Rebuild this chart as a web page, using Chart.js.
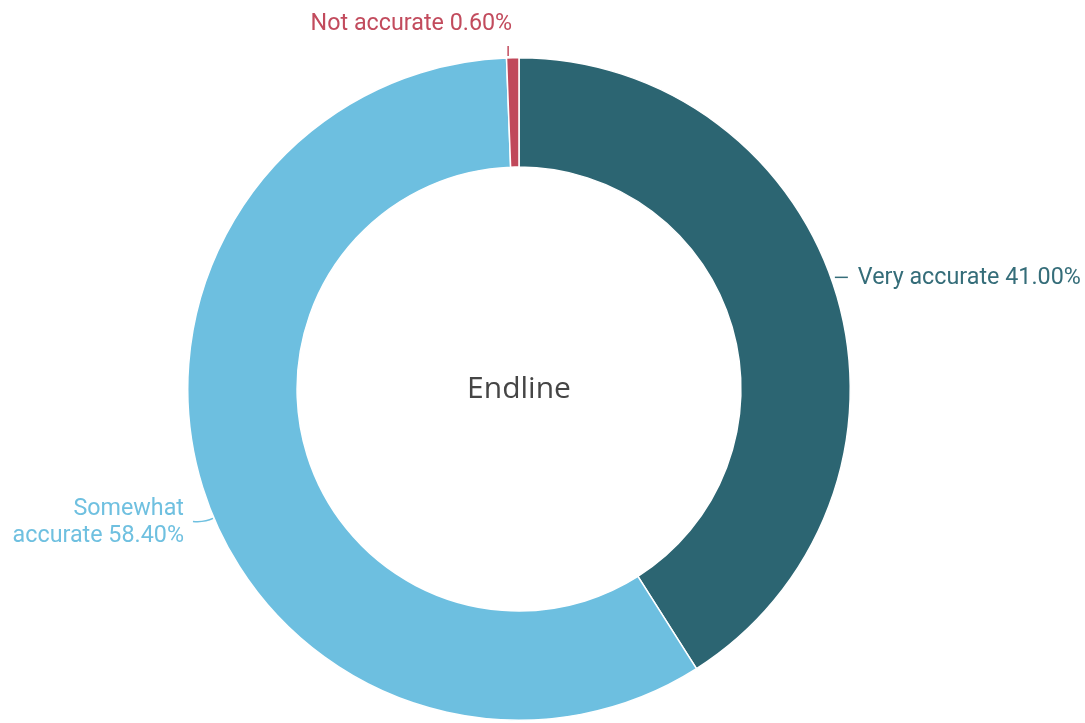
<!DOCTYPE html>
<html>
<head>
<meta charset="utf-8">
<script src="https://cdn.jsdelivr.net/npm/chart.js@4"></script>
<style>
  html, body { margin: 0; padding: 0; background: #ffffff; }
  #wrap { width: 1085px; height: 723px; position: relative; }
</style>
</head>
<body>
<div id="wrap"><canvas id="c" width="1085" height="723"></canvas></div>
<script>
// Survey answers, shown clockwise from 12 o'clock
const categories = ['Very accurate', 'Somewhat accurate', 'Not accurate'];
const shares = [41.0, 58.4, 0.6];
const centerTitle = 'Endline';

const sliceColors = ['#2c6572', '#6dbfe0', '#c0485a'];
const labelColors = ['#356d79', '#6fc0e0', '#c24b5d'];

// Where each label sits relative to its slice, and a small angular nudge (degrees)
const labelLayout = [
  { side: 'right', nudge: -3.5 },
  { side: 'left', nudge: -6.1 },
  { side: 'top', nudge: -0.8 }
];

function wrapText(ctx, text, maxW) {
  const words = text.split(' ');
  const lines = [];
  let cur = '';
  words.forEach(w => {
    const t = cur ? cur + ' ' + w : w;
    if (cur && ctx.measureText(t).width > maxW) { lines.push(cur); cur = w; }
    else cur = t;
  });
  if (cur) lines.push(cur);
  return lines;
}

const sliceLabels = {
  id: 'sliceLabels',
  afterDatasetsDraw(chart) {
    const ctx = chart.ctx;
    const meta = chart.getDatasetMeta(0);
    ctx.save();
    ctx.font = '400 23.3px Roboto';
    ctx.lineWidth = 1.5;
    meta.data.forEach((arc, i) => {
      const p = arc.getProps(['x', 'y', 'startAngle', 'endAngle', 'outerRadius'], true);
      const lay = labelLayout[i];
      const a = (p.startAngle + p.endAngle) / 2 + lay.nudge * Math.PI / 180;
      const ex = p.x + Math.cos(a) * p.outerRadius;
      const ey = p.y + Math.sin(a) * p.outerRadius;
      const text = categories[i] + ' ' + shares[i].toFixed(2) + '%';
      ctx.strokeStyle = labelColors[i];
      ctx.fillStyle = labelColors[i];
      ctx.textBaseline = 'middle';
      ctx.beginPath();
      if (lay.side === 'right') {
        ctx.moveTo(ex + 4, ey);
        ctx.lineTo(ex + 17, ey);
        ctx.stroke();
        ctx.textAlign = 'left';
        ctx.fillText(text, ex + 27, ey + 1);
      } else if (lay.side === 'left') {
        ctx.moveTo(ex - 2, ey - 2);
        ctx.quadraticCurveTo(ex - 10, ey + 2, ex - 22, ey + 1);
        ctx.stroke();
        ctx.textAlign = 'right';
        const lines = wrapText(ctx, text, 195);
        const lh = 27;
        const top = ey + 2 - (lines.length - 1) * lh / 2;
        lines.forEach((ln, k) => ctx.fillText(ln, ex - 31, top + k * lh));
      } else {
        ctx.moveTo(ex, ey - 2);
        ctx.lineTo(ex, ey - 12);
        ctx.stroke();
        ctx.textAlign = 'right';
        ctx.fillText(text, ex + 4, ey - 34);
      }
    });
    // centre title
    ctx.fillStyle = '#454545';
    ctx.font = '400 30px "Open Sans"';
    ctx.textAlign = 'center';
    ctx.textBaseline = 'middle';
    const c = meta.data[0];
    ctx.fillText(centerTitle, c.x, c.y);
    ctx.restore();
  }
};

new Chart(document.getElementById('c'), {
  type: 'doughnut',
  data: {
    labels: categories,
    datasets: [{
      data: shares,
      backgroundColor: sliceColors,
      borderColor: '#ffffff',
      borderWidth: 1.5,
      hoverOffset: 0
    }]
  },
  options: {
    responsive: false,
    animation: false,
    cutout: '67%',
    layout: { padding: { top: 57, bottom: 2, left: 0, right: 47 } },
    plugins: {
      legend: { display: false },
      tooltip: { enabled: false }
    }
  },
  plugins: [sliceLabels]
});
</script>
</body>
</html>
